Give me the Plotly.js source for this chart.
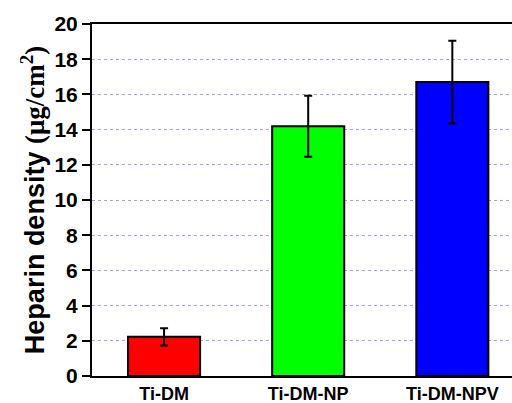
<!DOCTYPE html>
<html>
<head>
<meta charset="utf-8">
<script src="https://cdn.plot.ly/plotly-3.0.1.min.js"></script>
<style>html,body{margin:0;padding:0;background:#fff;}#chart{width:512px;height:403px;}</style>
</head>
<body>
<div id="chart"></div>
<script>
const categories = ['Ti-DM', 'Ti-DM-NP', 'Ti-DM-NPV'];
const values = [2.23, 14.19, 16.7];
const errors = [0.49, 1.73, 2.35];
const colors = ['#ff0000', '#00ff00', '#0000ff'];
const yTicks = [0, 2, 4, 6, 8, 10, 12, 14, 16, 18, 20];

const trace = {
  type: 'bar',
  x: categories,
  y: values,
  marker: {color: colors, line: {color: '#000', width: 2}},
  error_y: {type: 'data', array: errors, visible: true, color: '#000', thickness: 2, width: 4},
  width: 0.5
};

const layout = {
  width: 512, height: 403,
  margin: {l: 92, r: 0, t: 24, b: 27},
  paper_bgcolor: '#fff', plot_bgcolor: '#fff',
  showlegend: false,
  font: {family: 'Liberation Sans, Arial, sans-serif', color: '#000', size: 21},
  xaxis: {
    type: 'category',
    range: [-0.5, 2.414],
    tickvals: categories,
    ticktext: categories.map(c => '<b>' + c + '</b>'),
    showline: true, linecolor: '#000', linewidth: 2, mirror: true,
    ticks: '', showgrid: false,
    tickfont: {size: 18, family: 'Liberation Sans, Arial, sans-serif', weight: 'bold'},
    fixedrange: true
  },
  yaxis: {
    range: [0, 20],
    tickmode: 'array',
    tickvals: yTicks,
    ticktext: yTicks.map(v => '<b>' + v + '</b>'),
    showline: true, linecolor: '#000', linewidth: 2,
    ticks: 'outside', ticklen: 8, tickwidth: 2, tickcolor: '#000',
    showgrid: true, gridcolor: '#a0a0f0', griddash: 'dot', gridwidth: 1,
    zeroline: false,
    tickfont: {size: 21, family: 'Liberation Sans, Arial, sans-serif', weight: 'bold', color: '#000'},
    title: {
      text: '<b>Heparin density <span style="font-family:\'Liberation Serif\', serif">(μg/cm<sup>2</sup>)</span></b>',
      font: {size: 27, family: 'Liberation Sans, Arial, sans-serif', weight: 'bold'},
      standoff: 2
    }
  },
  yaxis2: {
    overlaying: 'y', side: 'left', anchor: 'x',
    range: [0, 20], dtick: 1,
    ticks: 'outside', ticklen: 5, tickwidth: 2, tickcolor: '#000',
    showticklabels: false, showgrid: false, showline: false, zeroline: false
  }
};

Plotly.newPlot('chart', [trace], layout, {staticPlot: true, displayModeBar: false});
</script>
</body>
</html>
